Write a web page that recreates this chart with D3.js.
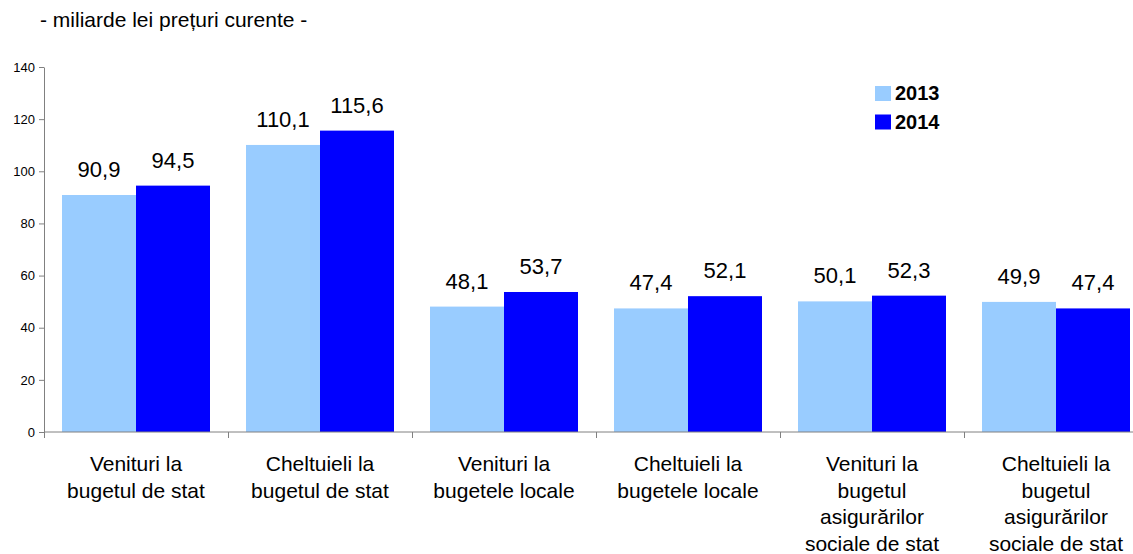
<!DOCTYPE html>
<html>
<head>
<meta charset="utf-8">
<script src="https://cdn.jsdelivr.net/npm/d3@7"></script>
<style>
  body { margin: 0; background: #fff; }
  svg { font-family: "Liberation Sans", Arial, sans-serif; }
</style>
</head>
<body>
<svg width="1133" height="554"></svg>
<script>
const categories = [
    ["Venituri la", "bugetul de stat"],
    ["Cheltuieli la", "bugetul de stat"],
    ["Venituri la", "bugetele locale"],
    ["Cheltuieli la", "bugetele locale"],
    ["Venituri la", "bugetul", "asigurărilor", "sociale de stat"],
    ["Cheltuieli la", "bugetul", "asigurărilor", "sociale de stat"]
];
const years = ["2013", "2014"];
const values2013 = [90.9, 110.1, 48.1, 47.4, 50.1, 49.9];
const values2014 = [94.5, 115.6, 53.7, 52.1, 52.3, 47.4];
const yTicks = [0, 20, 40, 60, 80, 100, 120, 140];

const svg = d3.select("svg");
const colors = { "2013": "#99ccff", "2014": "#0000ff" };

const keys = categories.map((c, i) => "c" + i);
const rows = keys.map((k, i) => ({ key: k, lines: categories[i], "2013": values2013[i], "2014": values2014[i] }));

const x0 = d3.scaleBand()
    .domain(keys)
    .range([44, 1148]);

const x1 = d3.scaleBand()
    .domain(years)
    .range([18, x0.bandwidth() - 18]);

const y = d3.scaleLinear()
    .domain([0, 140])
    .range([432, 67]);

// title
svg.append("text")
    .attr("x", 40)
    .attr("y", 27)
    .attr("font-size", "21px")
    .text("- miliarde lei prețuri curente -");

// bars
const groups = svg.selectAll(".cat")
    .data(rows)
    .enter()
    .append("g")
    .attr("class", "cat")
    .attr("transform", d => `translate(${x0(d.key)},0)`);

groups.selectAll("rect")
    .data(d => years.map(yr => ({ year: yr, value: d[yr] })))
    .enter()
    .append("rect")
    .attr("x", d => x1(d.year))
    .attr("y", d => y(d.value))
    .attr("width", x1.bandwidth())
    .attr("height", d => y(0) - y(d.value))
    .attr("fill", d => colors[d.year]);

groups.selectAll(".val")
    .data(d => years.map(yr => ({ year: yr, value: d[yr] })))
    .enter()
    .append("text")
    .attr("class", "val")
    .attr("x", d => x1(d.year) + x1.bandwidth() / 2)
    .attr("y", d => y(d.value) - 18)
    .attr("text-anchor", "middle")
    .attr("font-size", "22px")
    .text(d => d3.format(".1f")(d.value).replace(".", ","));

// y axis
const yAxis = svg.append("g")
    .attr("transform", "translate(44,0)")
    .call(d3.axisLeft(y).tickValues(yTicks).tickSize(5).tickSizeOuter(0).tickPadding(4));
yAxis.select(".domain").attr("stroke", "#808080");
yAxis.selectAll(".tick line").attr("stroke", "#808080");
yAxis.selectAll(".tick text")
    .attr("font-size", "13px")
    .attr("fill", "#000")
    .attr("font-family", "Liberation Sans, Arial, sans-serif");

// x axis line and category boundary ticks
svg.append("line")
    .attr("x1", 44).attr("x2", 1133)
    .attr("y1", y(0)).attr("y2", y(0))
    .attr("stroke", "#808080");

svg.selectAll(".bound")
    .data(keys)
    .enter()
    .append("line")
    .attr("class", "bound")
    .attr("x1", d => x0(d) + 0.5).attr("x2", d => x0(d) + 0.5)
    .attr("y1", y(0)).attr("y2", y(0) + 6)
    .attr("stroke", "#808080");

// category labels
const labels = svg.selectAll(".clabel")
    .data(rows)
    .enter()
    .append("text")
    .attr("class", "clabel")
    .attr("text-anchor", "middle")
    .attr("font-size", "21px")
    .attr("x", d => x0(d.key) + x0.bandwidth() / 2)
    .attr("y", 471);

labels.selectAll("tspan")
    .data(d => d.lines)
    .enter()
    .append("tspan")
    .attr("x", function() { return d3.select(this.parentNode).attr("x"); })
    .attr("dy", (d, i) => i === 0 ? 0 : 26.5)
    .text(d => d);

// legend
const legend = svg.selectAll(".legend")
    .data(years)
    .enter()
    .append("g")
    .attr("class", "legend")
    .attr("transform", (d, i) => `translate(875, ${86 + i * 28.5})`);

legend.append("rect")
    .attr("width", 16)
    .attr("height", 15)
    .attr("fill", d => colors[d]);

legend.append("text")
    .attr("x", 20)
    .attr("y", 14)
    .attr("font-size", "20px")
    .attr("font-weight", "bold")
    .text(d => d);
</script>
</body>
</html>
